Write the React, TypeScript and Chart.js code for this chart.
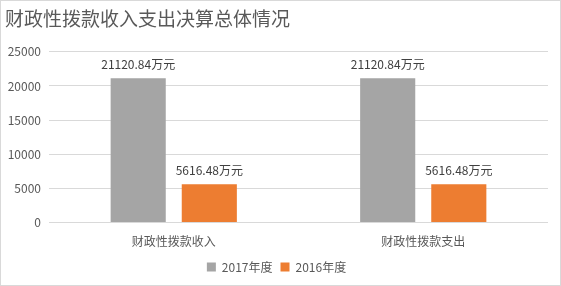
import React, { useEffect, useRef } from "react";
import { Chart, registerables } from "chart.js";

Chart.register(...registerables);

const titleText = "财政性拨款收入支出决算总体情况";
const categories = ["财政性拨款收入", "财政性拨款支出"];
const seriesNames = ["2017年度", "2016年度"];
const values2017 = [21120.84, 21120.84];
const values2016 = [5616.48, 5616.48];
const labels2017 = ["21120.84万元", "21120.84万元"];
const labels2016 = ["5616.48万元", "5616.48万元"];
const yMax = 25000;
const yStep = 5000;

const FONT = "'Noto Sans CJK SC', 'Liberation Sans', sans-serif";

const dataLabelPlugin = {
  id: "dataLabels",
  afterDatasetsDraw(chart: any) {
    const ctx = chart.ctx;
    const texts = [labels2017, labels2016];
    ctx.save();
    ctx.font = `12px ${FONT}`;
    ctx.fillStyle = "#404040";
    ctx.textAlign = "center";
    ctx.textBaseline = "bottom";
    chart.data.datasets.forEach((_: any, di: number) => {
      const meta = chart.getDatasetMeta(di);
      meta.data.forEach((bar: any, i: number) => {
        ctx.fillText(texts[di][i], bar.x, bar.y - 8);
      });
    });
    ctx.restore();
  },
};

export default function App() {
  const ref = useRef<HTMLCanvasElement>(null);
  useEffect(() => {
    document.body.style.margin = "0";
    const chart = new Chart(ref.current!, {
      type: "bar",
      data: {
        labels: categories,
        datasets: [
          { label: seriesNames[0], data: values2017, backgroundColor: "#a5a5a5" },
          { label: seriesNames[1], data: values2016, backgroundColor: "#ed7d31" },
        ],
      },
      options: {
        animation: false,
        responsive: false,
        devicePixelRatio: 1,
        layout: { padding: { left: 4, right: 12, top: 0, bottom: 2 } },
        datasets: { bar: { categoryPercentage: 0.57, barPercentage: 0.775 } },
        plugins: {
          title: {
            display: true,
            text: titleText,
            align: "start",
            color: "#595959",
            font: { family: FONT, size: 19, weight: "normal" },
            padding: { top: 6, bottom: 22 },
          },
          legend: {
            position: "bottom",
            labels: {
              boxWidth: 9,
              boxHeight: 9,
              color: "#595959",
              font: { family: FONT, size: 12 },
              padding: 8,
            },
          },
          tooltip: { enabled: false },
        },
        scales: {
          x: {
            grid: { display: false },
            border: { display: false },
            ticks: { color: "#595959", font: { family: FONT, size: 12 }, padding: 4 },
          },
          y: {
            min: 0,
            max: yMax,
            afterFit: (scale: any) => {
              scale.width = 44;
            },
            ticks: {
              stepSize: yStep,
              color: "#595959",
              font: { family: FONT, size: 12 },
              padding: 8,
              callback: (v: any) => String(v),
            },
            grid: { color: "#d9d9d9", drawTicks: false },
            border: { display: false },
          },
        },
      },
      plugins: [dataLabelPlugin],
    });
    return () => chart.destroy();
  }, []);
  return (
    <div style={{ width: 561, height: 286, boxSizing: "border-box", border: "1px solid #d9d9d9", background: "#fff" }}>
      <canvas ref={ref} width={559} height={284} style={{ display: "block" }} />
    </div>
  );
}
